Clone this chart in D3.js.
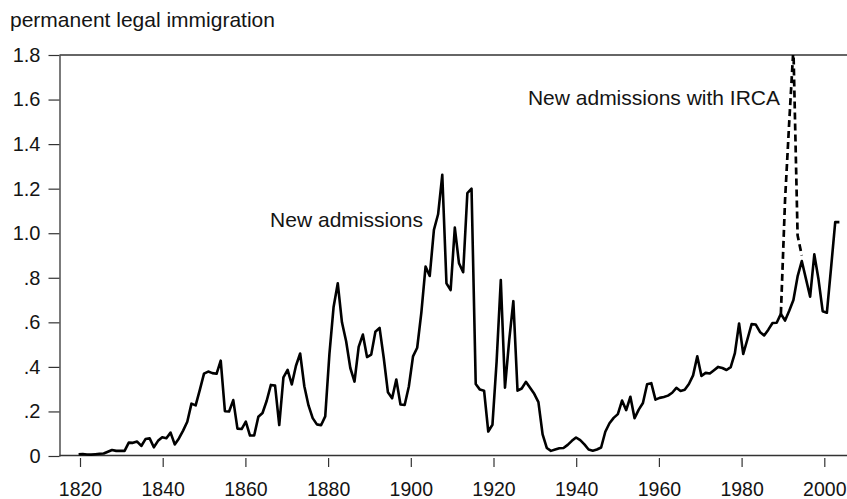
<!DOCTYPE html>
<html><head><meta charset="utf-8">
<script src="https://cdn.jsdelivr.net/npm/d3@7"></script>
<style>
html,body{margin:0;padding:0;background:#fff;}
svg{display:block;}
text{font-family:"Liberation Sans",Arial,Helvetica,sans-serif;fill:#141414;}
</style>
</head><body>
<svg id="chart" width="847" height="499"></svg>
<script>
// ---- data (millions of persons) ----
const firstYear = 1820;
const newAdmissions = [
  0.008,0.009,0.007,0.006,0.008,0.010,0.011,0.019,0.027,0.023, // 1820-1829
  0.023,0.023,0.060,0.059,0.065,0.045,0.076,0.079,0.039,0.068, // 1830-1839
  0.084,0.080,0.105,0.052,0.079,0.114,0.154,0.235,0.227,0.297, // 1840-1849
  0.370,0.379,0.372,0.369,0.428,0.201,0.200,0.251,0.123,0.121, // 1850-1859
  0.154,0.092,0.092,0.176,0.193,0.248,0.319,0.316,0.139,0.353, // 1860-1869
  0.387,0.321,0.405,0.460,0.313,0.227,0.170,0.142,0.138,0.178, // 1870-1879
  0.457,0.669,0.775,0.600,0.515,0.395,0.334,0.490,0.545,0.444, // 1880-1889
  0.455,0.558,0.575,0.440,0.286,0.259,0.343,0.231,0.229,0.312, // 1890-1899
  0.447,0.486,0.645,0.850,0.808,1.015,1.085,1.262,0.775,0.745, // 1900-1909
  1.025,0.865,0.825,1.180,1.200,0.323,0.298,0.293,0.110,0.140, // 1910-1919
  0.425,0.790,0.307,0.518,0.695,0.293,0.303,0.333,0.306,0.279, // 1920-1929
  0.242,0.097,0.036,0.023,0.029,0.035,0.036,0.050,0.068,0.083, // 1930-1939
  0.071,0.052,0.029,0.024,0.029,0.038,0.109,0.147,0.171,0.188, // 1940-1949
  0.249,0.206,0.266,0.170,0.208,0.238,0.322,0.327,0.253,0.261, // 1950-1959
  0.265,0.271,0.284,0.306,0.292,0.297,0.323,0.362,0.448,0.359, // 1960-1969
  0.373,0.370,0.385,0.400,0.395,0.386,0.399,0.462,0.595,0.458, // 1970-1979
  0.524,0.592,0.590,0.557,0.541,0.567,0.597,0.598,0.638,0.608, // 1980-1989
  0.652,0.700,0.806,0.875,0.795,0.715,0.905,0.793,0.650,0.643, // 1990-1999
  0.843,1.050,1.050                                            // 2000-2002
];
const ircaYears = [1988,1989,1990,1991,1992,1993];
const ircaAdmissions = [0.638,1.150,1.500,1.830,0.990,0.900];

const xTickValues = [1820,1840,1860,1880,1900,1920,1940,1960,1980,2000];
const yTickValues = [0,0.2,0.4,0.6,0.8,1.0,1.2,1.4,1.6,1.8];
const yTickLabels = ["0",".2",".4",".6",".8","1.0","1.2","1.4","1.6","1.8"];
const titleText = "permanent legal immigration";
const seriesLabel = "New admissions";
const ircaLabel = "New admissions with IRCA";

// ---- layout ----
const plot = {left:59.5, right:847, top:55, bottom:456};
const svg = d3.select("#chart");

// axis scale (tick positions) and data scale (line positions), as in the source graphic
const xAxisScale = d3.scaleLinear().domain([1820, 2000]).range([80, 824.3]);
const x = d3.scaleLinear().domain([1820, 2002]).range([78.6, 839.4]);
const y = d3.scaleLinear().domain([0, 1.8]).range([plot.bottom, plot.top]);

const series = newAdmissions.map((v,i)=>({year:firstYear+i, value:v}));
const irca = ircaYears.map((yr,i)=>({year:yr, value:ircaAdmissions[i]}));

// clip
svg.append("defs").append("clipPath").attr("id","plotclip")
  .append("rect").attr("x",plot.left).attr("y",plot.top)
  .attr("width",plot.right-plot.left).attr("height",plot.bottom-plot.top);

// title
svg.append("text").attr("x",10).attr("y",27).attr("font-size",21).text(titleText);

// top frame line
svg.append("line").attr("x1",plot.left).attr("x2",plot.right)
  .attr("y1",plot.top).attr("y2",plot.top)
  .attr("stroke","#333").attr("stroke-width",1.3);

// y axis
const yAxis = svg.append("g").attr("transform",`translate(${plot.left},0)`)
  .call(d3.axisLeft(y).tickValues(yTickValues)
        .tickFormat((d,i)=>yTickLabels[i]).tickSizeInner(11).tickSizeOuter(0).tickPadding(8));
yAxis.selectAll("path.domain").attr("stroke","#333").attr("stroke-width",1.3);
yAxis.selectAll(".tick line").attr("stroke","#333").attr("stroke-width",1.2);
yAxis.selectAll(".tick text").attr("font-size",20).attr("fill","#141414")
  .attr("font-family","Liberation Sans, Arial, sans-serif");

// x axis
const xAxis = svg.append("g").attr("transform",`translate(0,${plot.bottom-0.5})`)
  .call(d3.axisBottom(xAxisScale).tickValues(xTickValues).tickFormat(d3.format("d"))
        .tickSizeInner(11).tickSizeOuter(0).tickPadding(16));
xAxis.select("path.domain").attr("d",`M${plot.left},0H${plot.right}`)
  .attr("stroke","#333").attr("stroke-width",1.3);
xAxis.selectAll(".tick line").attr("y1",2.5).attr("y2",11.5)
  .attr("stroke","#333").attr("stroke-width",1.2);
xAxis.selectAll(".tick text").attr("font-size",19.5).attr("fill","#141414")
  .attr("y",26.5).attr("font-family","Liberation Sans, Arial, sans-serif");

// lines
const line = d3.line().x(d=>x(d.year)).y(d=>y(d.value));
const g = svg.append("g").attr("clip-path","url(#plotclip)");
g.append("path").datum(irca).attr("d",line)
  .attr("fill","none").attr("stroke","#000").attr("stroke-width",2.7)
  .attr("stroke-dasharray","7,4");
g.append("path").datum(series).attr("d",line)
  .attr("fill","none").attr("stroke","#000").attr("stroke-width",2.6)
  .attr("stroke-linejoin","round");

// annotations
svg.append("text").attr("x",423).attr("y",227).attr("text-anchor","end")
  .attr("font-size",21).text(seriesLabel);
svg.append("text").attr("x",780).attr("y",105).attr("text-anchor","end")
  .attr("font-size",21).text(ircaLabel);
</script>
</body></html>
